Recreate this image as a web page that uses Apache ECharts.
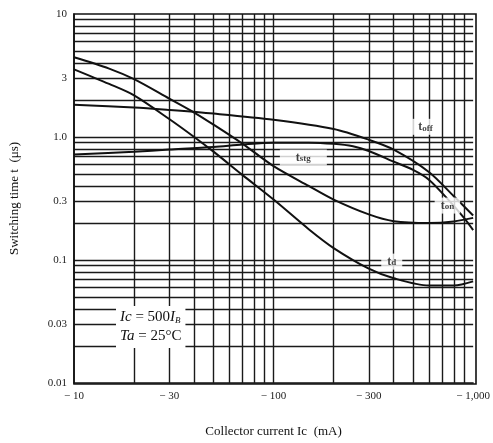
<!DOCTYPE html>
<html>
<head>
<meta charset="utf-8">
<script src="https://cdn.jsdelivr.net/npm/echarts@6/dist/echarts.min.js"></script>
<style>
  html, body { margin: 0; background: #fff; }
  #chart { width: 493px; height: 443px; }
</style>
</head>
<body>
<div id="chart"></div>
<script>
// axis ticks
const xTicks = [10, 30, 100, 300, 1000];
const xTickText = ['\u2212 10', '\u2212 30', '\u2212 100', '\u2212 300', '\u2212 1,000'];
const yTicks = [0.01, 0.03, 0.1, 0.3, 1, 3, 10];
const yTickText = ['0.01', '0.03', '0.1', '0.3', '1.0', '3', '10'];

// log grid lines
const xGrid = [20, 30, 40, 50, 60, 70, 80, 90, 100, 200, 300, 400, 500, 600, 700, 800, 900];
const yGrid = [0.02, 0.03, 0.04, 0.05, 0.06, 0.07, 0.08, 0.09, 0.1,
  0.2, 0.3, 0.4, 0.5, 0.6, 0.7, 0.8, 0.9, 1,
  2, 3, 4, 5, 6, 7, 8, 9];

// collector current (mA) and switching time (us)
const toffIc = [10, 20, 30, 50, 100, 200, 300, 400, 600, 800, 1000];
const toff = [1.83, 1.74, 1.66, 1.55, 1.38, 1.16, 0.95, 0.79, 0.52, 0.33, 0.23];

const tstgIc = [10, 20, 30, 50, 70, 100, 150, 200, 250, 300, 400, 500, 600, 750, 900, 1000];
const tstg = [0.72, 0.76, 0.79, 0.83, 0.87, 0.9, 0.9, 0.88, 0.84, 0.77, 0.63, 0.54, 0.45, 0.31, 0.22, 0.175];

const tonIc = [10, 15, 20, 30, 40, 50, 70, 100, 150, 200, 300, 400, 600, 800, 1000];
const ton = [4.45, 3.6, 2.95, 2.05, 1.58, 1.26, 0.88, 0.58, 0.4, 0.31, 0.235, 0.207, 0.2, 0.206, 0.22];

const tdIc = [10, 15, 20, 30, 40, 50, 70, 100, 150, 200, 300, 400, 600, 800, 1000];
const td = [3.55, 2.7, 2.18, 1.4, 1.0, 0.76, 0.49, 0.31, 0.178, 0.125, 0.085, 0.071, 0.062, 0.062, 0.067];

const FONT = '"Liberation Serif", "DejaVu Serif", serif';

const chart = echarts.init(document.getElementById('chart'), null, { renderer: 'canvas' });

const pairs = (xs, ys) => xs.map((x, i) => [x, ys[i]]);

function curve(name, xs, ys) {
    return {
        name,
        type: 'line',
        data: pairs(xs, ys),
        smooth: 0.3,
        showSymbol: false,
        lineStyle: { color: '#111', width: 2 },
        z: 3,
        silent: true,
    };
}

const gridLines = [
    ...xGrid.map(v => ({ xAxis: v })),
    ...yGrid.map(v => ({ yAxis: v })),
];

chart.setOption({
    animation: false,
    backgroundColor: '#fff',
    grid: { left: 74, right: 17, top: 14, bottom: 59, show: false },
    xAxis: {
        type: 'log',
        logBase: 10,
        min: 10,
        max: 1000,
        name: 'Collector current Ic  (mA)',
        nameLocation: 'middle',
        nameGap: 42,
        nameTextStyle: { fontFamily: FONT, fontSize: 13, color: '#111' },
        axisLine: { show: true, onZero: false, lineStyle: { color: '#111', width: 1.5 } },
        axisTick: { show: false },
        splitLine: { show: false },
        axisLabel: {
            customValues: xTicks,
            fontFamily: FONT, fontSize: 11, color: '#222', margin: 8,
            formatter: v => xTickText[xTicks.findIndex(t => Math.abs(t - v) < 1e-6 * t)] || '',
        },
    },
    yAxis: {
        type: 'log',
        logBase: 10,
        min: 0.01,
        max: 10,
        name: 'Switching time t  (\u03bcs)',
        nameLocation: 'middle',
        nameGap: 53,
        nameTextStyle: { fontFamily: FONT, fontSize: 13, color: '#111' },
        axisLine: { show: true, onZero: false, lineStyle: { color: '#111', width: 1.5 } },
        axisTick: { show: false },
        splitLine: { show: false },
        axisLabel: {
            customValues: yTicks,
            fontFamily: FONT, fontSize: 11, color: '#222', margin: 7,
            formatter: v => yTickText[yTicks.findIndex(t => Math.abs(t - v) < 1e-6 * t)] || '',
        },
    },
    graphic: [
        {
            type: 'rect', z: 10,
            shape: { x: 74, y: 14, width: 402, height: 370 },
            style: { fill: 'none', stroke: '#111', lineWidth: 1.6 },
        },
        {
            type: 'text', z: 20,
            left: 116, top: 306,
            style: {
                text: '{i|Ic} = 500{i|I}{s|B}\n{i|Ta} = 25\u00b0C',
                fontFamily: FONT, fontSize: 15, lineHeight: 19, fill: '#111',
                backgroundColor: '#fff', padding: [2, 4],
                rich: {
                    i: { fontFamily: FONT, fontSize: 15, fontStyle: 'italic', fill: '#111' },
                    s: { fontFamily: FONT, fontSize: 9, fontStyle: 'italic', fill: '#111', padding: [7, 0, 0, 0] },
                },
            },
        },
    ],
    series: [
        {
            name: 'grid',
            type: 'line',
            data: [],
            silent: true,
            markLine: {
                silent: true,
                z: 1,
                symbol: 'none',
                label: { show: false },
                lineStyle: { color: '#1a1a1a', width: 1.4, type: 'solid' },
                emphasis: { disabled: true },
                data: gridLines,
            },
        },
        curve('toff', toffIc, toff),
        curve('tstg', tstgIc, tstg),
        curve('ton', tonIc, ton),
        curve('td', tdIc, td),
        {
            name: 'labels',
            type: 'scatter',
            symbolSize: 0,
            silent: true,
            z: 8,
            data: [
                { value: [577, 1.21], name: 't', label: { formatter: '{a|t}{b|off}' } },
                { value: [141, 0.68], name: 't', label: { formatter: '{a|t}{b|stg}', padding: [2, 16] } },
                { value: [743, 0.277], name: 't', label: { formatter: '{a|t}{b|on}' } },
                { value: [391, 0.097], name: 't', label: { formatter: '{a|t}{b|d}' } },
            ],
            label: {
                show: true,
                position: 'inside',
                backgroundColor: '#fff',
                padding: [2, 6],
                rich: {
                    a: { fontFamily: FONT, fontSize: 12, fontWeight: 'bold', color: '#111' },
                    b: { fontFamily: FONT, fontSize: 9, fontWeight: 'bold', color: '#111', padding: [3, 0, 0, 0] },
                },
            },
        },
    ],
});

window.onresize = () => chart.resize();
</script>
</body>
</html>
